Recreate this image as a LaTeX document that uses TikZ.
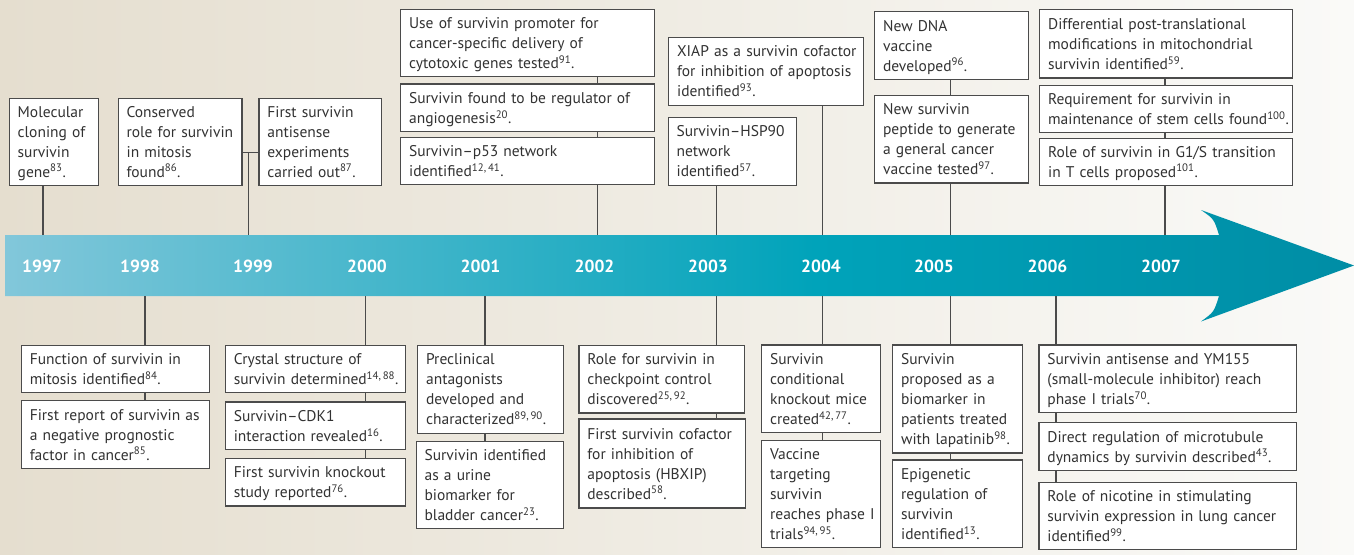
\documentclass[tikz,border=0pt]{standalone}
\usepackage{fontspec}
\setmainfont{PT Sans}
\definecolor{bgL}{RGB}{229,222,207}
\definecolor{bgR}{RGB}{250,250,248}
\definecolor{arL}{RGB}{130,199,218}
\definecolor{arM}{RGB}{0,163,186}
\definecolor{arR}{RGB}{0,141,165}
\definecolor{edge}{RGB}{75,75,75}
\definecolor{ink}{RGB}{50,50,50}
\pgfdeclarehorizontalshading{arrowshade}{100bp}{color(0bp)=(arL); color(25bp)=(arL); color(55bp)=(arM); color(75bp)=(arR); color(100bp)=(arR)}
\pgfdeclarelayer{bg}
\pgfsetlayers{bg,main}
\newcommand\tlbox[6]{%
  \pgfmathsetmacro\bw{#4-#2}%
  \pgfmathsetmacro\bh{#5-#3}%
  \pgfmathsetmacro\tw{#4-#2-17}%
  \node[tlbox, minimum width=\bw pt, minimum height=\bh pt, text width=\tw pt, anchor=north west] (#1) at (#2,#3)
   {\raisebox{-1.6pt}[\height][\depth]{\begin{tabular}{@{}l@{}}#6\end{tabular}}};}
\begin{document}
\begin{tikzpicture}[x=1pt,y=-1pt,
  tlbox/.style={draw=edge, line width=1.2pt, fill=white, text=ink, align=left,
    inner xsep=8.5pt, inner ysep=0pt, font=\fontsize{15.5}{20}\selectfont},
  year/.style={text=white, font=\fontsize{17.5}{20}\selectfont\bfseries},
  conn/.style={draw=edge, line width=1.2pt}]
\useasboundingbox (0,0) rectangle (1354,554);
\begin{pgfonlayer}{bg}
\shade[left color=bgL, right color=bgR] (0,0) rectangle (1354,554);
\shade[shading=arrowshade] (5,235) -- (1219,235) .. controls (1214,219) .. (1201,210)
  -- (1354,265.5) -- (1201,321.5) .. controls (1214,312) .. (1219,296) -- (5,296) -- cycle;
\end{pgfonlayer}
% years
\node[year] (t1997) at (42,266) {1997};
\node[year] (t1998) at (140,266) {1998};
\node[year] (t1999) at (253,266) {1999};
\node[year] (t2000) at (367,266) {2000};
\node[year] (t2001) at (480.5,266) {2001};
\node[year] (t2002) at (594.5,266) {2002};
\node[year] (t2003) at (708,266) {2003};
\node[year] (t2004) at (821,266) {2004};
\node[year] (t2005) at (934,266) {2005};
\node[year] (t2006) at (1047.5,266) {2006};
\node[year] (t2007) at (1161,266) {2007};
% top boxes
\tlbox{a97}{8.6}{97.5}{97.7}{184.5}{Molecular\\cloning of\\survivin\\gene\textsuperscript{83}.}
\tlbox{b99}{117.5}{97.5}{241.3}{184.5}{Conserved\\role for survivin\\in mitosis\\found\textsuperscript{86}.}
\tlbox{c99}{258.3}{97.5}{381}{184.5}{First survivin\\antisense\\experiments\\carried out\textsuperscript{87}.}
\tlbox{a02}{400}{8.5}{654}{76}{Use of survivin promoter for\\cancer-specific delivery of\\cytotoxic genes tested\textsuperscript{91}.}
\tlbox{b02}{400}{83.4}{654}{130.7}{Survivin found to be regulator of\\angiogenesis\textsuperscript{20}.}
\tlbox{c02}{400}{136.7}{654}{183.7}{Survivin–p53 network\\identified\textsuperscript{12,\,41}.}
\tlbox{a04}{668}{36.7}{863}{104.6}{XIAP as a survivin cofactor\\for inhibition of apoptosis\\identified\textsuperscript{93}.}
\tlbox{a03}{667.5}{116.6}{796}{184.5}{Survivin–HSP90\\network\\identified\textsuperscript{57}.}
\tlbox{a05}{874}{10.6}{1028}{79}{New DNA\\vaccine\\developed\textsuperscript{96}.}
\tlbox{b05}{874}{94.7}{1028}{182.3}{New survivin\\peptide to generate\\a general cancer\\vaccine tested\textsuperscript{97}.}
\tlbox{a07}{1039}{9.2}{1292}{77.4}{Differential post-translational\\modifications in mitochondrial\\survivin identified\textsuperscript{59}.}
\tlbox{b07}{1039}{84.5}{1292}{131.8}{Requirement for survivin in\\maintenance of stem cells found\textsuperscript{100}.}
\tlbox{c07}{1039}{137.5}{1292}{184.5}{Role of survivin in G1/S transition\\in T cells proposed\textsuperscript{101}.}
% bottom boxes
\tlbox{d98}{20.7}{345}{209}{392}{Function of survivin in\\mitosis identified\textsuperscript{84}.}
\tlbox{e98}{20.7}{400}{209}{468}{First report of survivin as\\a negative prognostic\\factor in cancer\textsuperscript{85}.}
\tlbox{d00}{224.7}{345}{404.5}{392}{Crystal structure of\\survivin determined\textsuperscript{14,\,88}.}
\tlbox{e00}{224.7}{401.4}{404.5}{448.8}{Survivin–CDK1\\interaction revealed\textsuperscript{16}.}
\tlbox{f00}{224.7}{457.6}{404.5}{505.3}{First survivin knockout\\study reported\textsuperscript{76}.}
\tlbox{d01}{417}{344.5}{562.7}{432.7}{Preclinical\\antagonists\\developed and\\characterized\textsuperscript{89,\,90}.}
\tlbox{e01}{415.5}{440.7}{562.7}{527.7}{Survivin identified\\as a urine\\biomarker for\\bladder cancer\textsuperscript{23}.}
\tlbox{d03}{578.3}{344.5}{743.5}{412.3}{Role for survivin in\\checkpoint control\\discovered\textsuperscript{25,\,92}.}
\tlbox{e03}{578.3}{418.3}{745}{507.3}{First survivin cofactor\\for inhibition of\\apoptosis (HBXIP)\\described\textsuperscript{58}.}
\tlbox{d04}{761}{344.3}{880}{432}{Survivin\\conditional\\knockout mice\\created\textsuperscript{42,\,77}.}
\tlbox{e04}{761}{440}{880}{547}{Vaccine\\targeting\\survivin\\reaches phase I\\trials\textsuperscript{94,\,95}.}
\tlbox{d05}{892}{344.3}{1021.5}{452.3}{Survivin\\proposed as a\\biomarker in\\patients treated\\with lapatinib\textsuperscript{98}.}
\tlbox{e05}{892}{459.3}{1021.5}{547}{Epigenetic\\regulation of\\survivin\\identified\textsuperscript{13}.}
\tlbox{d06}{1038.3}{344.3}{1295.7}{412}{Survivin antisense and YM155\\(small-molecule inhibitor) reach\\phase I trials\textsuperscript{70}.}
\tlbox{e06}{1038.3}{422}{1295.7}{470}{Direct regulation of microtubule\\dynamics by survivin described\textsuperscript{43}.}
\tlbox{f06}{1038.3}{481.7}{1295.7}{549}{Role of nicotine in stimulating\\survivin expression in lung cancer\\identified\textsuperscript{99}.}
% connector anchor points on the band
\coordinate (x1997) at (43,235);
\coordinate (x1999) at (248.3,235);
\coordinate (h1999) at (248.3,152.7);
\coordinate (x2002) at (597.5,235);
\coordinate (x2003) at (716.7,235);
\coordinate (x2004) at (822.3,235);
\coordinate (x2005) at (950.7,235);
\coordinate (x2007) at (1165,235);
\coordinate (z1998) at (145,296);
\coordinate (z2000) at (365.7,296);
\coordinate (z2001) at (485,296);
\coordinate (z2003) at (716.7,296);
\coordinate (z2004) at (822.7,296);
\coordinate (z2005) at (950.7,296);
\coordinate (z2006) at (1056,296);
\begin{pgfonlayer}{bg}
\draw[conn] (x1997) -- (x1997 |- a97.south);
\draw[conn] (x1999) -- (h1999);
\draw[conn] (h1999 -| b99.east) -- (h1999 -| c99.west);
\draw[conn] (x2002) -- (x2002 |- a02.south);
\draw[conn] (x2003) -- (x2003 |- a03.south);
\draw[conn] (x2004) -- (x2004 |- a04.south);
\draw[conn] (x2005) -- (x2005 |- a05.south);
\draw[conn] (x2007) -- (x2007 |- a07.south);
\draw[conn] (z1998) -- (z1998 |- e98.north);
\draw[conn] (z2000) -- (z2000 |- f00.north);
\draw[conn] (z2001) -- (z2001 |- e01.north);
\draw[conn] (z2003) -- (z2003 |- e03.north);
\draw[conn] (z2004) -- (z2004 |- e04.north);
\draw[conn] (z2005) -- (z2005 |- e05.north);
\draw[conn] (z2006) -- (z2006 |- f06.north);
\end{pgfonlayer}
\end{tikzpicture}
\end{document}
